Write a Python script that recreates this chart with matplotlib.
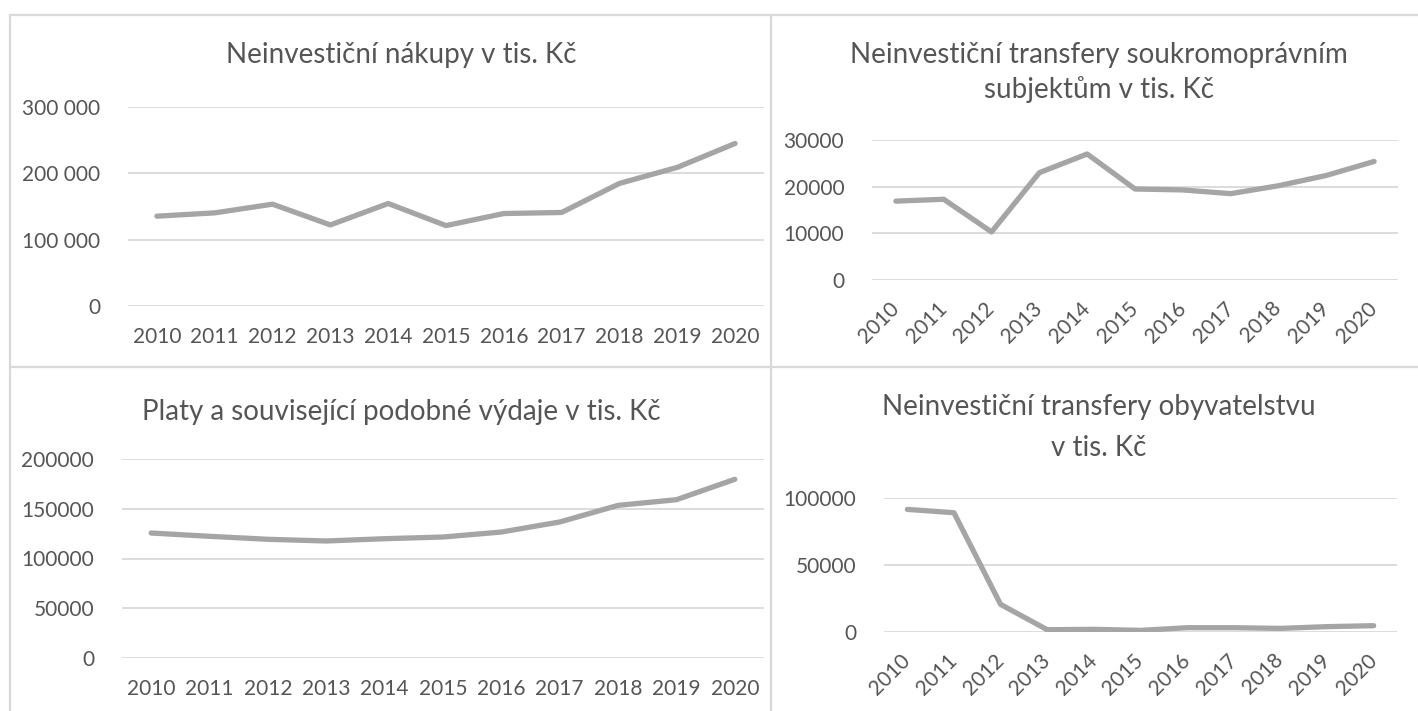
import matplotlib
matplotlib.use('Agg')
import matplotlib.pyplot as plt
from matplotlib.lines import Line2D
from matplotlib.ticker import FuncFormatter

plt.rcParams['font.family'] = ['Lato', 'DejaVu Sans']

W, H = 1418, 711

years = [str(y) for y in range(2010, 2021)]

nakupy = [135400, 140400, 153500, 122200, 154500, 121200, 139400, 141000, 184800, 209000, 245000]
transfery_soukr = [16900, 17300, 10300, 23000, 27000, 19500, 19300, 18500, 20200, 22400, 25400]
platy = [125600, 122300, 119300, 117600, 119900, 121600, 126600, 136700, 153400, 159100, 179600]
transfery_obyv = [91500, 89000, 20600, 1700, 2000, 1200, 3200, 3200, 2700, 4000, 4700]

TXT = '#555555'
GRID = '#D9D9D9'
LINE = '#A5A5A5'


def px_axes(fig, x0, x1, ytop, ybot):
    # pixel box -> figure fraction
    return fig.add_axes([x0 / W, (H - ybot) / H, (x1 - x0) / W, (ybot - ytop) / H])


def draw_panel(fig, box, values, ymax, step, rotate=False, space_fmt=False):
    ax = px_axes(fig, *box)
    ax.plot(range(len(values)), values, color=LINE, lw=3.8,
            solid_capstyle='round', solid_joinstyle='round', zorder=3)
    ax.set_xlim(-0.5, len(values) - 0.5)
    ax.set_ylim(0, ymax)
    ax.set_yticks(range(0, ymax + 1, step))
    if space_fmt:
        ax.yaxis.set_major_formatter(FuncFormatter(lambda v, p: f'{int(v):,}'.replace(',', ' ')))
    ax.set_xticks(range(len(values)))
    if rotate:
        ax.set_xticklabels(years, rotation=45, ha='right', va='center', rotation_mode='anchor')
        ax.tick_params(axis='x', pad=18)
    else:
        ax.set_xticklabels(years)
        ax.tick_params(axis='x', pad=15)
    ax.tick_params(axis='both', length=0, labelsize=15, colors=TXT)
    ax.tick_params(axis='y', pad=20)
    ax.grid(axis='y', color=GRID, lw=1.3)
    ax.set_axisbelow(True)
    for s in ax.spines.values():
        s.set_visible(False)
    ax.patch.set_alpha(0)
    return ax


fig = plt.figure(figsize=(W / 100, H / 100), dpi=100)

# panel borders
for xs, ys in [([10, W], [15, 15]), ([10, 10], [15, H]),
               ([771, 771], [15, H]), ([10, W], [367, 367])]:
    fig.add_artist(Line2D([x / W for x in xs], [1 - y / H for y in ys],
                          color=GRID, lw=1.6))

draw_panel(fig, (128, 764, 107, 306), nakupy, 300000, 100000, space_fmt=True)
draw_panel(fig, (872, 1398, 140, 280), transfery_soukr, 30000, 10000, rotate=True)
draw_panel(fig, (122, 764, 459, 658), platy, 200000, 50000)
draw_panel(fig, (884, 1397, 498, 632), transfery_obyv, 100000, 50000, rotate=True)

titles = [
    ('Neinvestiční nákupy v tis. Kč', 401, 55),
    ('Neinvestiční transfery soukromoprávním', 1099, 55),
    ('subjektům v tis. Kč', 1099, 90),
    ('Platy a související podobné výdaje v tis. Kč', 401, 412),
    ('Neinvestiční transfery obyvatelstvu', 1099, 407),
    ('v tis. Kč', 1099, 448),
]
for t, x, y in titles:
    fig.text(x / W, 1 - y / H, t, ha='center', va='center', fontsize=20, color=TXT)

fig.savefig('out.png', dpi=100)
